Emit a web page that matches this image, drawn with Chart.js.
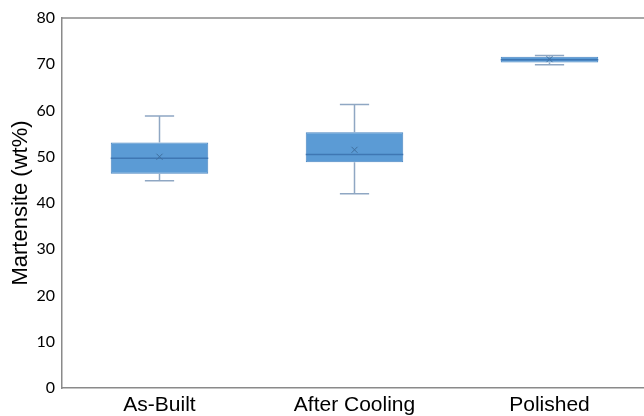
<!DOCTYPE html>
<html>
<head>
<meta charset="utf-8">
<script src="https://cdn.jsdelivr.net/npm/chart.js@4/dist/chart.umd.min.js"></script>
<style>
  html, body { margin: 0; padding: 0; overflow: hidden; background: #fff; }
  #wrap { width: 650px; height: 416px; position: relative; }
</style>
</head>
<body>
<div id="wrap"><canvas id="chart"></canvas></div>
<script>
const categories = ['As-Built', 'After Cooling', 'Polished'];
const minVals = [44.8, 42.0, 69.9];
const q1Vals = [46.3, 48.8, 70.4];
const medianVals = [49.7, 50.5, 71.0];
const q3Vals = [53.1, 55.3, 71.6];
const maxVals = [58.8, 61.3, 71.9];
const meanVals = [50.0, 51.5, 71.1];
const yTicks = [0, 10, 20, 30, 40, 50, 60, 70, 80];

// whiskers, median, mean and top frame line
const boxExtras = {
    id: 'boxExtras',
    afterDatasetsDraw(chart) {
        const ctx = chart.ctx;
        const y = chart.scales.y;
        const x = chart.scales.x;
        const meta = chart.getDatasetMeta(0);
        ctx.save();
        categories.forEach((c, i) => {
            const cx = x.getPixelForValue(i);
            const bw = meta.data[i].width;
            const cap = bw * 0.15;
            // whiskers
            ctx.strokeStyle = '#8fa7c3';
            ctx.lineWidth = 1.5;
            ctx.beginPath();
            ctx.moveTo(cx, y.getPixelForValue(q3Vals[i]));
            ctx.lineTo(cx, y.getPixelForValue(maxVals[i]));
            ctx.moveTo(cx - cap, y.getPixelForValue(maxVals[i]));
            ctx.lineTo(cx + cap, y.getPixelForValue(maxVals[i]));
            ctx.moveTo(cx, y.getPixelForValue(q1Vals[i]));
            ctx.lineTo(cx, y.getPixelForValue(minVals[i]));
            ctx.moveTo(cx - cap, y.getPixelForValue(minVals[i]));
            ctx.lineTo(cx + cap, y.getPixelForValue(minVals[i]));
            ctx.stroke();
            // median
            ctx.strokeStyle = '#3f77b3';
            ctx.lineWidth = 1.5;
            ctx.beginPath();
            ctx.moveTo(cx - bw / 2, y.getPixelForValue(medianVals[i]));
            ctx.lineTo(cx + bw / 2, y.getPixelForValue(medianVals[i]));
            ctx.stroke();
            // mean marker
            const my = y.getPixelForValue(meanVals[i]);
            ctx.strokeStyle = '#3f6f9f';
            ctx.lineWidth = 1;
            ctx.beginPath();
            ctx.moveTo(cx - 3, my - 3); ctx.lineTo(cx + 3, my + 3);
            ctx.moveTo(cx - 3, my + 3); ctx.lineTo(cx + 3, my - 3);
            ctx.stroke();
        });
        const a = chart.chartArea;
        ctx.strokeStyle = '#8a8a8a';
        ctx.lineWidth = 1.5;
        ctx.beginPath();
        ctx.moveTo(a.left, a.top);
        ctx.lineTo(a.right, a.top);
        ctx.stroke();
        ctx.restore();
    }
};

new Chart(document.getElementById('chart'), {
    type: 'bar',
    data: {
        labels: categories,
        datasets: [{
            label: 'Martensite',
            data: categories.map((c, i) => [q1Vals[i], q3Vals[i]]),
            backgroundColor: '#5b9bd5',
            borderColor: '#4a86c2',
            borderWidth: 1,
            borderSkipped: false,
            barPercentage: 0.5,
            categoryPercentage: 1
        }]
    },
    options: {
        responsive: true,
        maintainAspectRatio: false,
        animation: false,
        layout: { padding: { top: 18, right: 3, left: 0, bottom: 0 } },
        plugins: {
            legend: { display: false },
            tooltip: { enabled: false }
        },
        scales: {
            x: {
                grid: { display: false, drawTicks: false },
                border: { display: true, color: '#8a8a8a', width: 1.5 },
                ticks: {
                    color: '#000',
                    padding: 5,
                    font: { family: "'Liberation Sans', Arial, sans-serif", size: 21 }
                },
                afterFit: (s) => { s.height = 28; }
            },
            y: {
                min: 0,
                max: 80,
                afterBuildTicks: (s) => { s.ticks = yTicks.map(v => ({ value: v })); },
                grid: { display: false, drawTicks: false },
                border: { display: true, color: '#8a8a8a', width: 1.5 },
                ticks: {
                    color: '#000',
                    padding: 7,
                    font: { family: "Lato, 'Open Sans', sans-serif", size: 16 }
                },
                title: {
                    display: true,
                    text: 'Martensite (wt%)',
                    color: '#000',
                    padding: { top: 8, bottom: 0 },
                    font: { family: "'Liberation Sans', Arial, sans-serif", size: 22 }
                },
                afterFit: (s) => { s.width = 62; }
            }
        }
    },
    plugins: [boxExtras]
});
</script>
</body>
</html>
